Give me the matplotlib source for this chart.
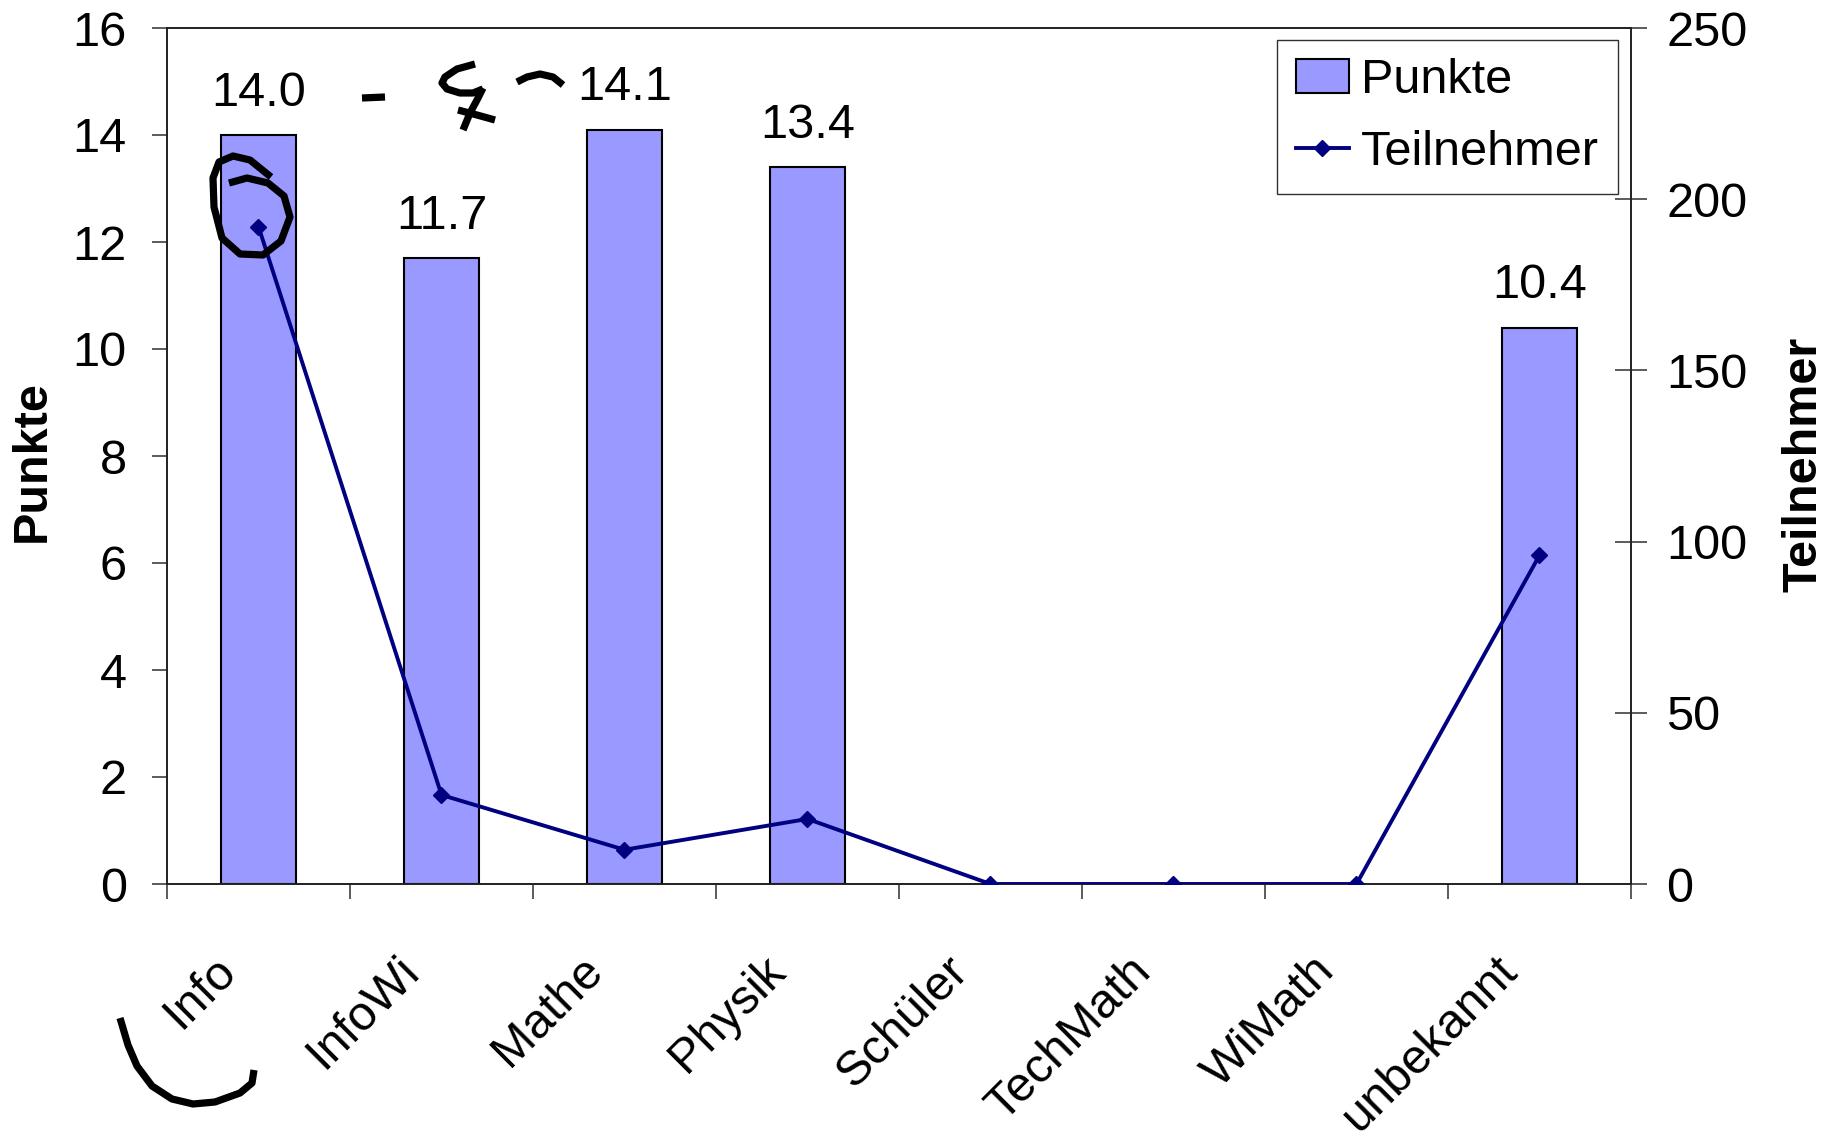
#!/usr/bin/env python3
"""Punkte und Teilnehmer je Studiengang"""
import matplotlib
matplotlib.use('Agg')
import matplotlib.pyplot as plt
import numpy as np
from matplotlib.lines import Line2D
from matplotlib.transforms import ScaledTranslation

plt.rcParams['font.family'] = ['Liberation Sans', 'DejaVu Sans']

# Data
studiengaenge = ['Info', 'InfoWi', 'Mathe', 'Physik', 'Schüler', 'TechMath', 'WiMath', 'unbekannt']
punkte = [14.0, 11.7, 14.1, 13.4, np.nan, np.nan, np.nan, 10.4]
teilnehmer = [192, 26, 10, 19, 0, 0, 0, 96]

# Pen strokes drawn over the chart (figure pixels, origin top left)
stroke_loop = [(271, 177), (250, 160), (233, 156), (219, 162), (213, 178), (214, 207),
               (222, 238), (240, 254), (263, 255), (281, 241), (290, 217), (284, 196),
               (268, 183), (247, 178), (229, 183)]
stroke_dash = [(362, 98), (385, 97)]
stroke_s = [(475, 64), (457, 69), (445, 77), (442, 83), (447, 89), (460, 93), (473, 93),
            (483, 89)]
stroke_bar = [(483, 88), (477, 100), (470, 113), (463, 130)]
stroke_cross = [(458, 110), (477, 115), (495, 120)]
stroke_tilde = [(517, 82), (527, 77), (540, 74), (553, 77), (563, 85)]
stroke_arc = [(120, 1018), (128, 1045), (137, 1066), (152, 1086), (172, 1099), (193, 1104),
              (215, 1102), (240, 1093), (252, 1083), (254, 1070)]

FS = 35
W, H = 1831, 1140

fig = plt.figure(figsize=(W / 100, H / 100), dpi=100)
ax = fig.add_axes([167 / W, 1 - 884 / H, (1631 - 167) / W, (884 - 28) / H])

x = np.arange(len(studiengaenge))
bars = ax.bar(x, punkte, width=0.41, color='#9999FF', edgecolor='black', linewidth=1.5,
              zorder=2, label='Punkte')
ax.set_xlim(-0.5, len(studiengaenge) - 0.5)
ax.set_ylim(0, 16)
ax.set_yticks(np.arange(0, 17, 2))

for xi, v in zip(x, punkte):
    if np.isnan(v):
        continue
    ax.annotate(f'{v:.1f}', (xi, v), xytext=(0, 14), textcoords='offset points',
                ha='center', va='bottom', fontsize=FS)

ax2 = ax.twinx()
line, = ax2.plot(x, teilnehmer, color='#000080', linewidth=2.8, marker='D', markersize=8,
                 label='Teilnehmer', zorder=3)
ax2.set_ylim(0, 250)
ax2.set_yticks(np.arange(0, 251, 50))

# axes styling
for a in (ax, ax2):
    for s in a.spines.values():
        s.set_color('#202020')
        s.set_linewidth(1.2)
ax.tick_params(axis='y', direction='out', length=11, width=1.2, color='#404040',
               labelsize=FS, pad=18)
ax2.tick_params(axis='y', direction='inout', length=23, width=1.2, color='#404040',
                labelsize=FS, pad=14)

# category separators as ticks, names as rotated labels
ax.set_xticks(np.arange(-0.5, len(studiengaenge), 1.0))
ax.set_xticklabels([])
ax.tick_params(axis='x', direction='out', length=11, width=1.2, color='#404040')
lab_trans = ax.get_xaxis_transform() + ScaledTranslation(-0.45, -0.64, fig.dpi_scale_trans)
for xi, name in zip(x, studiengaenge):
    ax.text(xi, 0, name, transform=lab_trans, rotation=45, ha='right', va='top',
            rotation_mode='anchor', fontsize=FS)

ax.set_ylabel('Punkte', fontsize=FS, fontweight='bold')
ax.yaxis.set_label_coords(-0.077, 0.494)
ax2.set_ylabel('Teilnehmer', fontsize=FS, fontweight='bold', rotation=90)
ax2.yaxis.set_label_coords(1.1025, 0.49)

leg = ax2.legend([bars, line], ['Punkte', 'Teilnehmer'], loc='upper right',
                 bbox_to_anchor=(0.991, 0.986), borderaxespad=0, fontsize=FS,
                 fancybox=False, framealpha=1, edgecolor='#303030',
                 handlelength=1.1, handletextpad=0.25, labelspacing=0.55, borderpad=0.38)
leg.get_frame().set_linewidth(1.0)

# pen strokes
for stroke in (stroke_loop, stroke_dash, stroke_s, stroke_bar, stroke_cross, stroke_tilde,
               stroke_arc):
    px = np.array(stroke, dtype=float)
    fig.add_artist(Line2D(px[:, 0] / W, 1 - px[:, 1] / H, transform=fig.transFigure,
                          color='black', linewidth=5.2, solid_capstyle='butt',
                          solid_joinstyle='round', zorder=10))

fig.savefig('out.png', dpi=100)
plt.close(fig)
